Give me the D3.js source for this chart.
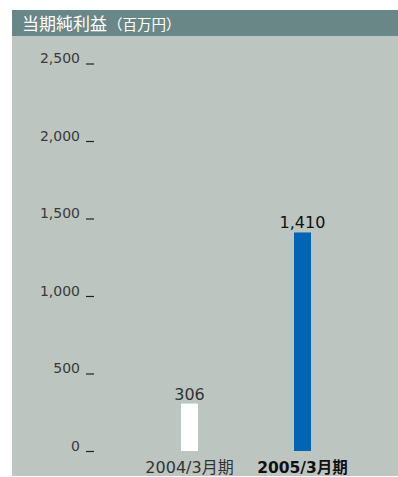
<!DOCTYPE html>
<html>
<head>
<meta charset="utf-8">
<script src="https://cdn.jsdelivr.net/npm/d3@7/dist/d3.min.js"></script>
<style>
  html, body { margin: 0; padding: 0; background: #ffffff; }
  svg { display: block; }
</style>
</head>
<body>
<svg id="chart" width="398" height="477"></svg>
<script>
// 当期純利益（百万円）
const categories = ["2004/3月期", "2005/3月期"];
const values = [306, 1410];
const tickValues = [0, 500, 1000, 1500, 2000, 2500];
const barColors = ["#ffffff", "#0066b3"];
const emphasis = [false, true];

const svg = d3.select("#chart");
const panel = { x: 12, y: 10, w: 386, h: 466 };
const headerH = 26;
const latin = "'DejaVu Sans', 'Noto Sans CJK JP', sans-serif";

// background panel and header strip
svg.append("rect")
  .attr("x", panel.x).attr("y", panel.y)
  .attr("width", panel.w).attr("height", panel.h)
  .attr("fill", "#bcc5c0");
svg.append("rect")
  .attr("x", panel.x).attr("y", panel.y)
  .attr("width", panel.w).attr("height", headerH)
  .attr("fill", "#6a8787");

const title = svg.append("text")
  .attr("x", 22).attr("y", panel.y + 20)
  .attr("fill", "#ffffff")
  .attr("font-family", "'Noto Sans CJK JP', sans-serif");
title.append("tspan").attr("font-size", 17).text("当期純利益");
title.append("tspan").attr("font-size", 14.5).attr("dx", 1).text("（百万円）");

// scales
const y = d3.scaleLinear().domain([0, 2500]).range([451, 63.5]);
const x = d3.scaleBand().domain(categories).range([133, 359]).padding(0);

const barW = 17;

// y axis: short dashes to the right of the labels
const axis = d3.axisLeft(y)
  .tickValues(tickValues)
  .tickSize(0)
  .tickPadding(0)
  .tickFormat(d3.format(","));
const gAxis = svg.append("g").attr("transform", "translate(80,0)").call(axis);
gAxis.select(".domain").remove();
gAxis.selectAll(".tick text")
  .attr("x", 0)
  .attr("dy", "-0.05em")
  .attr("font-family", latin)
  .attr("font-size", 14)
  .attr("fill", "#3a3a3a")
  .attr("text-anchor", "end");
gAxis.selectAll(".tick").append("line")
  .attr("x1", 6).attr("x2", 14)
  .attr("y1", 0).attr("y2", 0)
  .attr("stroke", "#222222").attr("stroke-width", 1.2);

// bars
const cx = d => x(d) + x.bandwidth() / 2;
svg.selectAll(".bar").data(categories).join("rect")
  .attr("class", "bar")
  .attr("x", d => cx(d) - barW / 2)
  .attr("y", (d, i) => y(values[i]))
  .attr("width", barW)
  .attr("height", (d, i) => y(0) - y(values[i]))
  .attr("fill", (d, i) => barColors[i]);

// value labels
svg.selectAll(".val").data(categories).join("text")
  .attr("class", "val")
  .attr("x", d => cx(d))
  .attr("y", (d, i) => y(values[i]) - 4)
  .attr("text-anchor", "middle")
  .attr("font-family", latin)
  .attr("font-size", 16)
  .attr("fill", (d, i) => emphasis[i] ? "#111111" : "#333333")
  .text((d, i) => d3.format(",")(values[i]));

// category labels
svg.selectAll(".cat").data(categories).join("text")
  .attr("class", "cat")
  .attr("x", d => cx(d))
  .attr("y", 473)
  .attr("text-anchor", "middle")
  .attr("font-family", latin)
  .attr("font-size", (d, i) => emphasis[i] ? 15.5 : 16)
  .attr("font-weight", (d, i) => emphasis[i] ? 700 : 400)
  .attr("fill", (d, i) => emphasis[i] ? "#111111" : "#333333")
  .text(d => d);
</script>
</body>
</html>
